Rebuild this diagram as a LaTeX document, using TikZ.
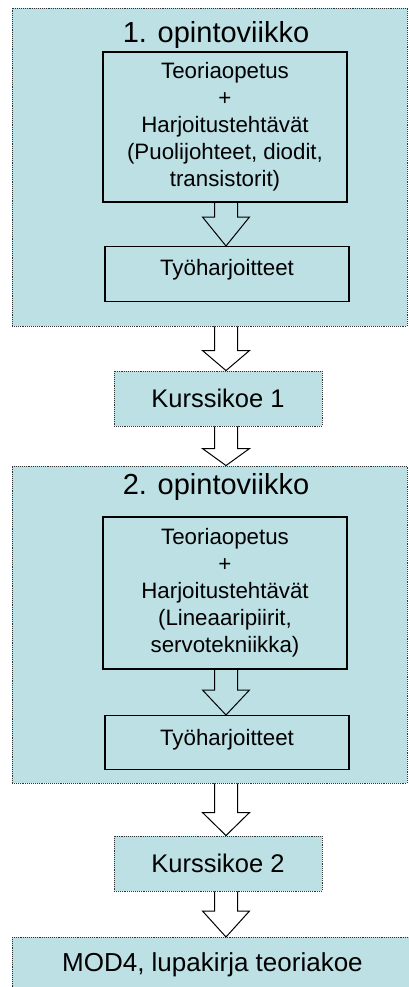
\documentclass[tikz,border=0pt]{standalone}
\usepackage{fontspec}
\setmainfont{Liberation Sans}
\usetikzlibrary{calc,positioning}
\definecolor{vaalea}{RGB}{188,224,228}
\tikzset{
    week/.style =   {rectangle,
                    fill=vaalea,
                    draw=black!80,
                    densely dotted,
                    line width=0.9pt,
                    minimum width=395pt,
                    inner sep=0pt},
    title/.style =  {text=black,
                    inner sep=0pt,
                    font=\fontsize{29}{34}\selectfont},
    task/.style =   {rectangle,
                    fill=vaalea,
                    draw=black,
                    line width=1.2pt,
                    text=black,
                    align=center,
                    minimum width=244pt,
                    inner sep=0pt,
                    font=\fontsize{22.3}{27}\selectfont},
    exam/.style =   {rectangle,
                    fill=vaalea,
                    draw=black!80,
                    densely dotted,
                    line width=0.9pt,
                    text=black,
                    minimum width=208pt,
                    minimum height=55pt,
                    inner sep=0pt,
                    font=\fontsize{25.5}{30}\selectfont},
    barrow/.style = {draw=black,
                    line width=1pt,
                    line join=miter},
    -,
    draw=white!20!black}

% block arrow: from node, to node, head length
\newcommand{\blockarrow}[3]{%
    \draw[barrow] ($(#1.south -| axis)+(-11.5,0)$) -- ($(#2.north -| axis)+(-11.5,#3)$)
        -- ($(#2.north -| axis)+(-23.5,#3)$) -- (#2.north -| axis)
        -- ($(#2.north -| axis)+(23.5,#3)$) -- ($(#2.north -| axis)+(11.5,#3)$)
        -- ($(#1.south -| axis)+(11.5,0)$);}

\begin{document}
\begin{tikzpicture}[x=1pt,y=1pt]
    \useasboundingbox (0,0) rectangle (408,-987);
    \coordinate (axis) at (226,0);

    % 1. opintoviikko
    \node[week]     (W1) [minimum height=318pt] at (209.5,-167) {};
    \node[title]    (T1) [anchor=base]          at (216,-43)    {1. opintoviikko};
    \node[task]     (A1) [minimum height=150pt] at (225,-127)
        {Teoriaopetus\\+\\Harjoitustehtävät\\(Puolijohteet, diodit,\\transistorit)};
    \node[task]     (B1) [anchor=north,text height=29pt,text depth=26pt] at (227,-246) {Työharjoitteet};

    \node[exam]     (K1) []                     at (218,-398.5) {Kurssikoe 1};

    % 2. opintoviikko
    \node[week]     (W2) [minimum height=317pt] at (209.5,-624.5) {};
    \node[title]    (T2) [anchor=base]          at (216,-494)   {2. opintoviikko};
    \node[task]     (A2) [minimum height=152pt] at (225,-593)
        {Teoriaopetus\\+\\Harjoitustehtävät\\(Lineaaripiirit,\\servotekniikka)};
    \node[task]     (B2) [anchor=north,text height=30pt,text depth=24pt] at (227,-715) {Työharjoitteet};

    \node[exam]     (K2) []                     at (218,-863.5) {Kurssikoe 2};

    \node[exam]     (M4) [anchor=north west,minimum width=400pt,minimum height=0pt,
                          text height=34.5pt,text depth=28.5pt,font=\fontsize{26}{31}\selectfont]
                                                at (12,-937)    {MOD4, lupakirja teoriakoe};

    \blockarrow{A1}{B1}{29}
    \blockarrow{W1}{K1}{20}
    \blockarrow{K1}{W2}{17}
    \blockarrow{A2}{B2}{25}
    \blockarrow{W2}{K2}{23}
    \blockarrow{K2}{M4}{26}
\end{tikzpicture}
\end{document}
